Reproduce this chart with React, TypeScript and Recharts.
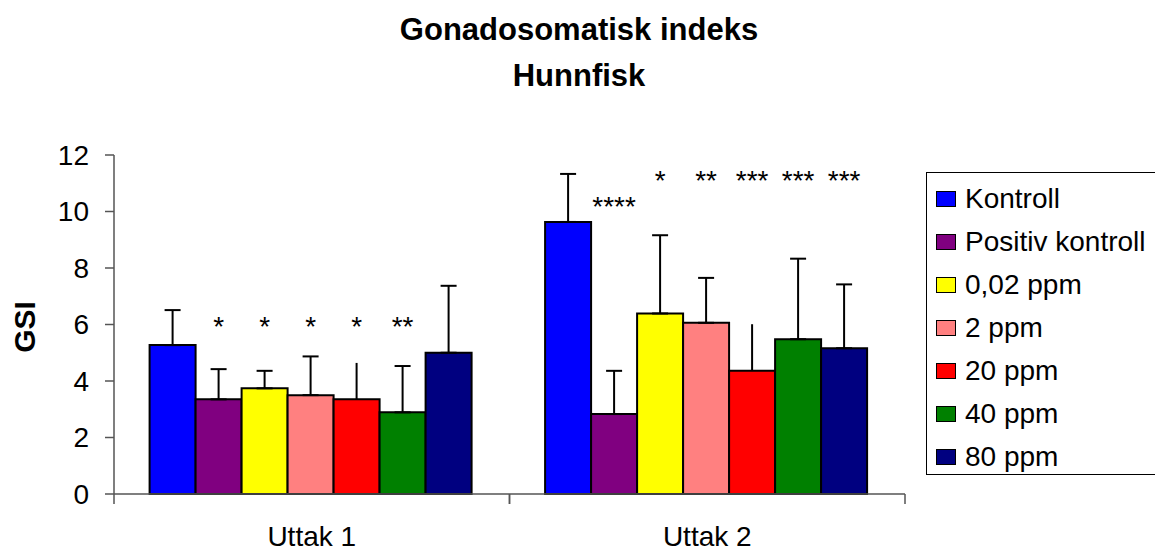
import { BarChart, Bar, XAxis, YAxis, ErrorBar, LabelList, Legend } from 'recharts'

document.body.style.margin = '0'

const categories = ['Uttak 1', 'Uttak 2']
const seriesNames = ['Kontroll', 'Positiv kontroll', '0,02 ppm', '2 ppm', '20 ppm', '40 ppm', '80 ppm']
const seriesKeys = ['kontroll', 'positiv', 'p002', 'p2', 'p20', 'p40', 'p80']
const seriesColors = ['#0000ff', '#800080', '#ffff00', '#ff8080', '#ff0000', '#008000', '#000080']
const capWidths = [8, 8, 8, 8, 0, 8, 8]

const uttak1Mean = [5.27, 3.35, 3.74, 3.5, 3.35, 2.89, 5.0]
const uttak2Mean = [9.63, 2.83, 6.39, 6.06, 4.36, 5.48, 5.16]
const uttak1Err = [1.24, 1.07, 0.62, 1.37, 1.29, 1.64, 2.37]
const uttak2Err = [1.7, 1.53, 2.77, 1.59, 1.65, 2.85, 2.26]
const uttak1Stars = ['', '*', '*', '*', '*', '**', '']
const uttak2Stars = ['', '****', '*', '**', '***', '***', '***']
const uttak1StarLevel = [0, 6.15, 6.15, 6.15, 6.15, 6.15, 0]
const uttak2StarLevel = [0, 10.4, 11.34, 11.34, 11.34, 11.34, 11.34]

const yTicks = [0, 2, 4, 6, 8, 10, 12]

const means = [uttak1Mean, uttak2Mean]
const errs = [uttak1Err, uttak2Err]
const stars = [uttak1Stars, uttak2Stars]
const starLevels = [uttak1StarLevel, uttak2StarLevel]

const rows = categories.map((name, ci) => {
  const row: Record<string, any> = { name }
  seriesKeys.forEach((k, si) => {
    row[k] = means[ci][si]
    row[k + 'Err'] = [0, errs[ci][si]]
    row[k + 'Star'] = stars[ci][si]
    row[k + 'StarY'] = starLevels[ci][si]
  })
  return row
})

const FONT = '"Liberation Sans", Arial, sans-serif'

// stars sit at a fixed GSI level, so place them via the bar's own px-per-unit
const starLabel = (key: string) => (props: any) => {
  const { x, y, width, height, index } = props
  const row = rows[index]
  const txt = row[key + 'Star']
  if (!txt) return null
  const perUnit = Number(height) / row[key]
  const cy = Number(y) + Number(height) - row[key + 'StarY'] * perUnit
  return (
    <text x={Number(x) + Number(width) / 2} y={cy + 16} textAnchor="middle" fontSize={28} fill="#000">
      {txt}
    </text>
  )
}

// ticks between categories, label in the middle
const CategoryTick = (props: any) => {
  const { x, y, payload } = props
  const half = payload.offset ?? 197.75
  return (
    <g>
      <line x1={x - half} x2={x - half} y1={y - 10} y2={y} stroke="#555" strokeWidth={1.5} />
      <line x1={x + half} x2={x + half} y1={y - 10} y2={y} stroke="#555" strokeWidth={1.5} />
      <text x={x} y={y + 42} textAnchor="middle" fontSize={28} fill="#000">
        {payload.value}
      </text>
    </g>
  )
}

const renderLegend = (props: any) => {
  const items = [...(props.payload || [])].sort(
    (a: any, b: any) => seriesNames.indexOf(a.value) - seriesNames.indexOf(b.value)
  )
  return (
    <div
      style={{
        boxSizing: 'border-box',
        width: 260,
        height: 303,
        border: '1px solid #000',
        background: '#fff',
        paddingTop: 4,
        paddingLeft: 9,
        fontFamily: FONT,
      }}
    >
      {items.map((p: any) => (
        <div key={p.value} style={{ height: 43, display: 'flex', alignItems: 'center' }}>
          <span
            style={{
              boxSizing: 'border-box',
              width: 20,
              height: 16,
              border: '1px solid #000',
              background: p.color,
              marginRight: 9,
              flex: 'none',
            }}
          />
          <span style={{ fontSize: 28, color: '#000', whiteSpace: 'nowrap', lineHeight: '32px' }}>{p.value}</span>
        </div>
      ))}
    </div>
  )
}

export default function App() {
  return (
    <div style={{ position: 'relative', width: 1155, height: 549, overflow: 'hidden', fontFamily: FONT, background: '#fff' }}>
      <BarChart
        width={1155}
        height={549}
        data={rows}
        margin={{ top: 155, right: 250, bottom: 0, left: 0 }}
        barCategoryGap="9%"
        barGap={0}
      >
        <XAxis
          dataKey="name"
          height={55}
          tickLine={false}
          tickSize={10}
          tickMargin={0}
          axisLine={{ stroke: '#555', strokeWidth: 1.5 }}
          tick={<CategoryTick />}
        />
        <YAxis
          width={114}
          domain={[0, 12]}
          ticks={yTicks}
          tickSize={9}
          tickMargin={16}
          axisLine={{ stroke: '#555', strokeWidth: 1.5 }}
          tickLine={{ stroke: '#555', strokeWidth: 1.5 }}
          tick={{ fontSize: 28, fill: '#000' }}
        />
        <Legend
          layout="vertical"
          align="center"
          verticalAlign="middle"
          content={renderLegend}
          wrapperStyle={{ left: 926, top: 172, width: 260, height: 303 }}
        />
        {seriesKeys.map((k, i) => (
          <Bar
            key={k}
            dataKey={k}
            name={seriesNames[i]}
            fill={seriesColors[i]}
            stroke="#000"
            strokeWidth={2}
            isAnimationActive={false}
          >
            <ErrorBar dataKey={k + 'Err'} direction="y" width={capWidths[i]} stroke="#000" strokeWidth={2} />
            <LabelList dataKey={k + 'Star'} content={starLabel(k)} />
          </Bar>
        ))}
      </BarChart>
      <svg
        width={1155}
        height={549}
        style={{ position: 'absolute', left: 0, top: 0, pointerEvents: 'none' }}
      >
        <text x={579} y={40} textAnchor="middle" fontSize={31} fontWeight="bold" fill="#000">
          Gonadosomatisk indeks
        </text>
        <text x={579} y={86} textAnchor="middle" fontSize={31} fontWeight="bold" fill="#000">
          Hunnfisk
        </text>
        <text x={35} y={327} transform="rotate(-90, 35, 327)" textAnchor="middle" fontSize={30} fontWeight="bold" fill="#000">
          GSI
        </text>
      </svg>
    </div>
  )
}
